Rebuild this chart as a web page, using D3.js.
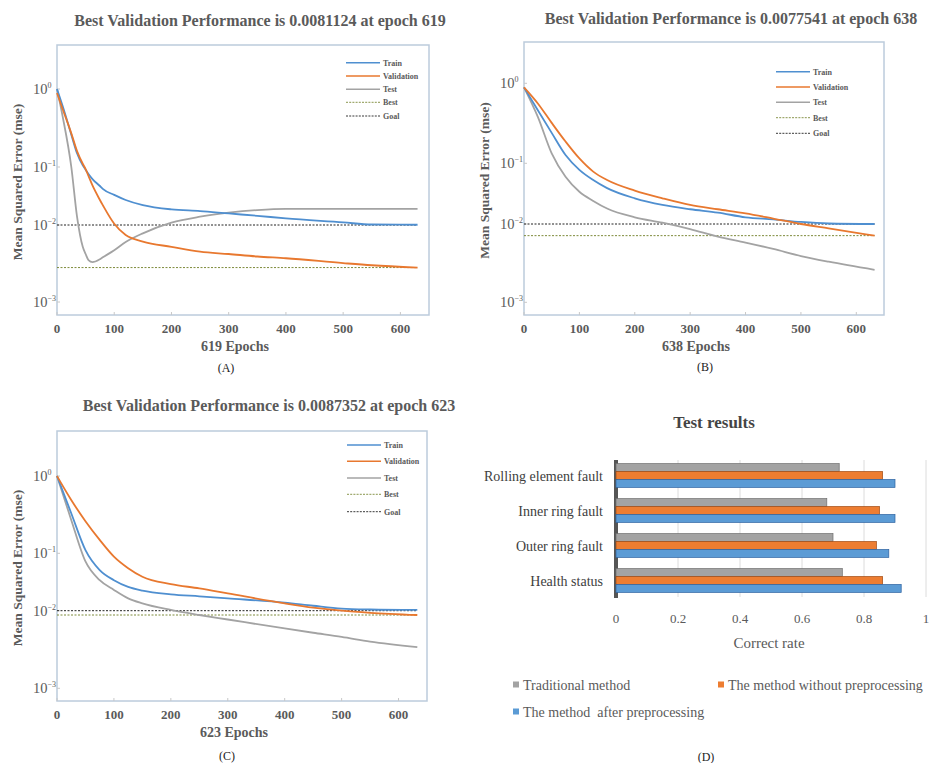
<!DOCTYPE html>
<html>
<head>
<meta charset="utf-8">
<script src="https://cdn.jsdelivr.net/npm/d3@7"></script>
<style>
  body { margin: 0; background: #fff; }
  svg, svg text { font-family: "Liberation Serif", "DejaVu Serif", serif; }
</style>
</head>
<body>
<script>
const svgWidth = 930
const svgHeight = 763

// ---- panel A data ----
const epochsA = [0, 10, 25, 35, 45, 50, 55, 62, 75, 80, 100, 120, 150, 200, 250, 300, 350, 400, 500, 550, 630]
const trainA = [1.0, 0.6, 0.26, 0.15, 0.105, 0.09, 0.076, 0.062, 0.047, 0.042, 0.033, 0.027, 0.022, 0.0186, 0.0174, 0.0158, 0.0144, 0.013, 0.0111, 0.0102, 0.0101]
const validA = [0.89, 0.55, 0.27, 0.16, 0.11, 0.092, 0.07, 0.048, 0.027, 0.022, 0.0105, 0.0074, 0.0061, 0.0052, 0.0045, 0.0042, 0.0039, 0.0037, 0.0032, 0.003, 0.0028]
const testA = [1.0, 0.44, 0.1, 0.0139, 0.0052, 0.0042, 0.0035, 0.0033, 0.0036, 0.0038, 0.0047, 0.006, 0.0078, 0.011, 0.0139, 0.0163, 0.0181, 0.019, 0.019, 0.019, 0.019]
const goalA = 0.01
const bestA = 0.0028

// ---- panel B data ----
const epochsB = [0, 25, 50, 75, 100, 125, 150, 200, 250, 300, 350, 400, 450, 500, 550, 633]
const trainB = [0.89, 0.46, 0.24, 0.127, 0.078, 0.053, 0.039, 0.0265, 0.0206, 0.0175, 0.0154, 0.0129, 0.0119, 0.0108, 0.0102, 0.01]
const validB = [0.89, 0.56, 0.32, 0.187, 0.115, 0.073, 0.053, 0.0355, 0.0265, 0.0206, 0.0175, 0.015, 0.0123, 0.01, 0.0088, 0.0071]
const testB = [0.89, 0.38, 0.133, 0.06, 0.034, 0.024, 0.018, 0.0129, 0.0105, 0.0086, 0.0069, 0.0058, 0.0048, 0.0039, 0.0033, 0.0026]
const goalB = 0.01
const bestB = 0.0071

// ---- panel C data ----
const epochsC = [0, 25, 50, 75, 100, 125, 150, 200, 250, 300, 400, 450, 500, 550, 633]
const trainC = [1.0, 0.33, 0.11, 0.051, 0.034, 0.026, 0.0224, 0.0193, 0.0178, 0.0164, 0.0138, 0.0122, 0.0109, 0.0105, 0.0103]
const validC = [1.0, 0.49, 0.26, 0.149, 0.0875, 0.055, 0.039, 0.029, 0.0245, 0.02, 0.0134, 0.0113, 0.01, 0.0094, 0.0088]
const testC = [1.0, 0.27, 0.072, 0.034, 0.023, 0.0164, 0.0134, 0.0103, 0.0088, 0.0077, 0.0059, 0.0052, 0.0046, 0.004, 0.0034]
const goalC = 0.01
const bestC = 0.0088

const xTicks = [0, 100, 200, 300, 400, 500, 600]
const yDecades = [1, 0.1, 0.01, 0.001]
const yTickExp = ["0", "\u22121", "\u22122", "\u22123"]
const legendNames = ["Train", "Validation", "Test", "Best", "Goal"]

// ---- panel D data ----
const categories = ["Rolling element fault", "Inner ring fault", "Outer ring fault", "Health status"]
const seriesNames = ["Traditional method", "The method without preprocessing", "The method  after preprocessing"]
const traditional = [0.72, 0.68, 0.70, 0.73]
const withoutPre = [0.86, 0.85, 0.84, 0.86]
const afterPre = [0.90, 0.90, 0.88, 0.92]
const rateTicks = [0, 0.2, 0.4, 0.6, 0.8, 1]

const serif = "'Liberation Serif', 'DejaVu Serif', serif"
const cBlue = "#4f8fd0"
const cOrange = "#e8782f"
const cGray = "#a3a3a3"
const textGray = "#5a5a5a"

const svg = d3.select("body").append("svg")
  .attr("width", svgWidth)
  .attr("height", svgHeight)
  .attr("font-family", serif)

svg.append("rect").attr("width", svgWidth).attr("height", svgHeight).attr("fill", "#fff")

function perfPanel(p) {
  const g = svg.append("g")
  const x = d3.scaleLinear().domain([0, 650]).range([p.left, p.right])
  // the figure's decades are not evenly spaced, so map each one
  const y = d3.scaleLog().domain(yDecades).range(p.decadeY)

  g.append("text")
    .attr("x", p.titleX).attr("y", p.titleY)
    .attr("text-anchor", "middle")
    .attr("font-size", 16).attr("font-weight", "bold")
    .attr("fill", textGray)
    .text(p.title)

  g.append("rect")
    .attr("x", p.left).attr("y", p.top)
    .attr("width", p.right - p.left).attr("height", p.bottom - p.top)
    .attr("fill", "none").attr("stroke", "#bccbdc").attr("stroke-width", 1.5)

  // ticks
  g.selectAll(".xt").data(xTicks).enter().append("line")
    .attr("x1", d => x(d)).attr("x2", d => x(d))
    .attr("y1", p.bottom).attr("y2", p.bottom - 3)
    .attr("stroke", "#c8c8c8")
  g.selectAll(".xl").data(xTicks).enter().append("text")
    .attr("x", d => x(d)).attr("y", p.bottom + 18)
    .attr("text-anchor", "middle")
    .attr("font-size", 13).attr("font-weight", "bold")
    .attr("fill", textGray)
    .text(d => d)

  g.selectAll(".yt").data(yDecades).enter().append("line")
    .attr("x1", p.left).attr("x2", p.left + 3)
    .attr("y1", d => y(d)).attr("y2", d => y(d))
    .attr("stroke", "#c8c8c8")
  const yl = g.selectAll(".yl").data(yDecades).enter().append("text")
    .attr("x", p.left - 24).attr("y", d => y(d) + 5)
    .attr("font-size", 14.5).attr("fill", textGray)
  yl.append("tspan").text("10")
  yl.append("tspan").attr("dy", -6).attr("font-size", 8).text((d, i) => yTickExp[i])

  g.append("text")
    .attr("transform", `translate(${p.yLabelX}, ${(p.top + p.bottom) / 2 + 2}) rotate(-90)`)
    .attr("text-anchor", "middle")
    .attr("font-size", 13.5).attr("font-weight", "bold")
    .attr("fill", textGray)
    .text("Mean Squared Error (mse)")

  g.append("text")
    .attr("x", (p.left + p.right) / 2 - 8).attr("y", p.bottom + 36)
    .attr("text-anchor", "middle")
    .attr("font-size", 14).attr("font-weight", "bold")
    .attr("fill", textGray)
    .text(p.xLabel)

  g.append("text")
    .attr("x", p.capX).attr("y", p.capY)
    .attr("text-anchor", "middle")
    .attr("font-size", 12).attr("fill", "#222")
    .text(p.caption)

  const lastEp = p.epochs[p.epochs.length - 1]
  // goal and best lines
  g.append("line")
    .attr("x1", x(0)).attr("x2", x(lastEp))
    .attr("y1", y(p.goal)).attr("y2", y(p.goal))
    .attr("stroke", "#222").attr("stroke-width", 1).attr("stroke-dasharray", "2,1.5")
  g.append("line")
    .attr("x1", x(0)).attr("x2", x(lastEp))
    .attr("y1", y(p.best)).attr("y2", y(p.best))
    .attr("stroke", "#7d8a3a").attr("stroke-width", 1).attr("stroke-dasharray", "2,1.5")

  const line = d3.line()
    .x(d => x(d[0]))
    .y(d => y(d[1]))
    .curve(d3.curveMonotoneX)

  const series = [
    { vals: p.test, color: cGray },
    { vals: p.train, color: cBlue },
    { vals: p.valid, color: cOrange }
  ]
  series.forEach(s => {
    g.append("path")
      .datum(p.epochs.map((e, i) => [e, s.vals[i]]))
      .attr("d", line)
      .attr("fill", "none")
      .attr("stroke", s.color)
      .attr("stroke-width", 1.8)
  })

  // legend
  const legColors = [cBlue, cOrange, cGray, "#7d8a3a", "#222"]
  legendNames.forEach((name, i) => {
    const ly = p.legY[i]
    g.append("line")
      .attr("x1", p.legX).attr("x2", p.legX + 34)
      .attr("y1", ly).attr("y2", ly)
      .attr("stroke", legColors[i])
      .attr("stroke-width", i < 3 ? 1.5 : 0.9)
      .attr("stroke-dasharray", i < 3 ? null : "2,1.2")
    g.append("text")
      .attr("x", p.legX + 37).attr("y", ly + 3)
      .attr("font-size", 8).attr("font-weight", "bold")
      .attr("fill", textGray)
      .text(name)
  })
}

perfPanel({
  title: "Best Validation Performance is 0.0081124 at epoch 619",
  titleX: 260, titleY: 26,
  left: 57, right: 429, top: 45, bottom: 315,
  decadeY: [89, 167, 225, 302],
  yLabelX: 22,
  xLabel: "619 Epochs", caption: "(A)", capX: 226, capY: 372,
  legX: 346, legY: [62.7, 76, 89.3, 102.3, 116],
  epochs: epochsA, train: trainA, valid: validA, test: testA, goal: goalA, best: bestA
})

perfPanel({
  title: "Best Validation Performance is 0.0077541 at epoch 638",
  titleX: 731, titleY: 24,
  left: 524, right: 884, top: 42, bottom: 315,
  decadeY: [83.3, 163.3, 224, 302.3],
  yLabelX: 489,
  xLabel: "638 Epochs", caption: "(B)", capX: 705, capY: 371,
  legX: 776, legY: [71.7, 87, 102.3, 117.7, 133.3],
  epochs: epochsB, train: trainB, valid: validB, test: testB, goal: goalB, best: bestB
})

perfPanel({
  title: "Best Validation Performance is 0.0087352 at epoch 623",
  titleX: 269, titleY: 411,
  left: 57, right: 427, top: 431, bottom: 701,
  decadeY: [476, 553.3, 610.7, 688.3],
  yLabelX: 22,
  xLabel: "623 Epochs", caption: "(C)", capX: 227, capY: 760,
  legX: 347, legY: [445, 461.3, 478, 494.3, 511.7],
  epochs: epochsC, train: trainC, valid: validC, test: testC, goal: goalC, best: bestC
})

// ---- panel D: horizontal bars ----
const dG = svg.append("g")
const xr = d3.scaleLinear().domain([0, 1]).range([616, 926])
const yCat = d3.scaleBand().domain(categories).range([458, 598]).paddingInner(0.32).paddingOuter(0.16)
const ySer = d3.scaleBand().domain(seriesNames).range([0, yCat.bandwidth()])
const barColors = [cGray, "#ed7d31", "#5b9bd5"]
const barEdge = ["#6e6e6e", "#a04a12", "#2d62a0"]
const seriesVals = [traditional, withoutPre, afterPre]

dG.append("text")
  .attr("x", 714).attr("y", 428)
  .attr("text-anchor", "middle")
  .attr("font-size", 17).attr("font-weight", "bold")
  .attr("fill", "#444")
  .text("Test results")

dG.selectAll(".grid").data(rateTicks.slice(1)).enter().append("line")
  .attr("x1", d => xr(d)).attr("x2", d => xr(d))
  .attr("y1", 460).attr("y2", 597)
  .attr("stroke", "#dcdcdc")

dG.append("rect")
  .attr("x", xr(0) - 2).attr("y", 460).attr("width", 4).attr("height", 138)
  .attr("fill", "#555")

seriesVals.forEach((vals, si) => {
  dG.selectAll(".bar" + si).data(categories).enter().append("rect")
    .attr("x", xr(0))
    .attr("y", d => yCat(d) + ySer(seriesNames[si]))
    .attr("width", (d, i) => xr(vals[i]) - xr(0))
    .attr("height", ySer.bandwidth())
    .attr("fill", barColors[si])
    .attr("stroke", barEdge[si])
    .attr("stroke-width", 0.7)
})

dG.selectAll(".cat").data(categories).enter().append("text")
  .attr("x", 603).attr("y", d => yCat(d) + yCat.bandwidth() / 2 + 5)
  .attr("text-anchor", "end")
  .attr("font-size", 14).attr("fill", "#404040")
  .text(d => d)

dG.selectAll(".rt").data(rateTicks).enter().append("text")
  .attr("x", d => xr(d)).attr("y", 623)
  .attr("text-anchor", "middle")
  .attr("font-size", 13).attr("fill", textGray)
  .text(d => d)

dG.append("text")
  .attr("x", 769).attr("y", 648)
  .attr("text-anchor", "middle")
  .attr("font-size", 15).attr("fill", textGray)
  .text("Correct rate")

const legPos = [[513, 685], [718, 685], [513, 712]]
seriesNames.forEach((name, i) => {
  dG.append("rect")
    .attr("x", legPos[i][0]).attr("y", legPos[i][1] - 3.5)
    .attr("width", 6).attr("height", 6)
    .attr("fill", barColors[i])
  dG.append("text")
    .attr("x", legPos[i][0] + 10).attr("y", legPos[i][1] + 5)
    .attr("font-size", 14).attr("fill", textGray)
    .style("white-space", "pre")
    .text(name)
})

dG.append("text")
  .attr("x", 706).attr("y", 761)
  .attr("text-anchor", "middle")
  .attr("font-size", 12).attr("fill", "#222")
  .text("(D)")
</script>
</body>
</html>
